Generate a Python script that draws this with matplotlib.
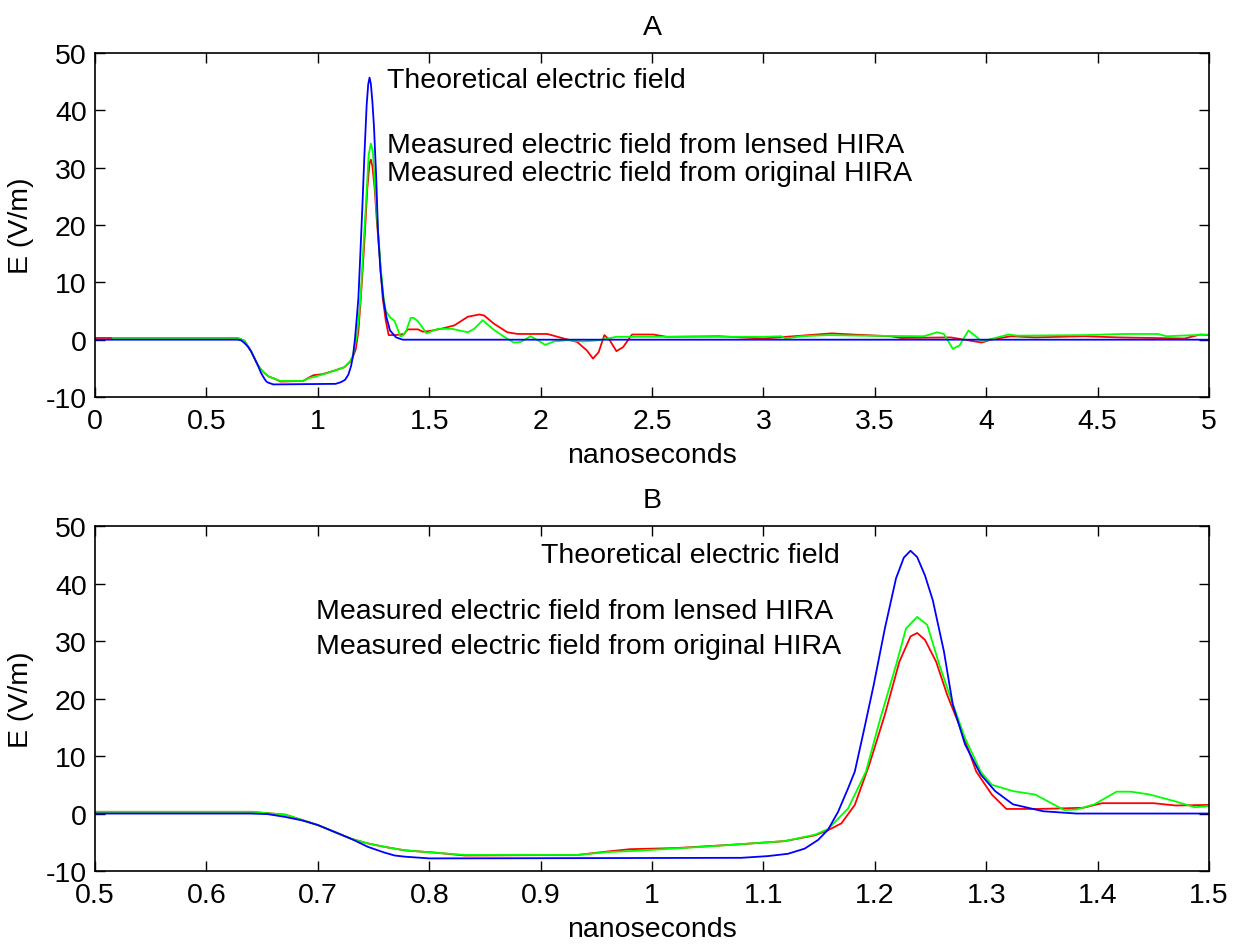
import matplotlib
matplotlib.use("Agg")
import matplotlib.pyplot as plt
from matplotlib.ticker import FuncFormatter

plt.rcParams['font.family'] = ['Liberation Sans', 'DejaVu Sans']
plt.rcParams['axes.unicode_minus'] = False

# theoretical field (blue)
t_theory = [0.0, 0.64, 0.655, 0.671, 0.686, 0.70, 0.715, 0.73, 0.745, 0.76,
            0.769, 0.778, 0.80, 1.08, 1.104, 1.122, 1.137, 1.149, 1.158, 1.167,
            1.176, 1.182, 1.190, 1.199, 1.209, 1.219, 1.226, 1.232, 1.238, 1.245,
            1.252, 1.262, 1.270, 1.281, 1.295, 1.308, 1.324, 1.351, 1.381, 5.0]
e_theory = [0, 0, -0.1, -0.6, -1.2, -2.0, -3.2, -4.4, -5.8, -6.8,
            -7.3, -7.5, -7.8, -7.7, -7.4, -7.0, -6.1, -4.6, -2.8, 0.3,
            4.4, 7.3, 14.3, 22.4, 32.2, 40.9, 44.5, 45.7, 44.6, 41.4,
            37.1, 28.2, 18.9, 12.0, 6.8, 3.9, 1.6, 0.4, 0, 0]

# measured, lensed HIRA (green)
t_lensed = [0.08, 0.64, 0.671, 0.70, 0.73, 0.745, 0.76, 0.778, 0.805, 0.832,
            0.933, 0.96, 0.984, 1.044, 1.119, 1.146, 1.158, 1.176, 1.192, 1.205,
            1.219, 1.228, 1.238, 1.247, 1.258, 1.268, 1.281, 1.295, 1.305, 1.324,
            1.344, 1.37, 1.381, 1.397, 1.417, 1.43, 1.447, 1.47, 1.487, 1.54,
            1.6, 1.673, 1.702, 1.74, 1.784, 1.836, 1.88, 1.91, 1.955, 2.0,
            2.02, 2.06, 2.12, 2.19, 2.26, 2.34, 2.5, 3.0, 3.08, 3.10,
            3.17, 3.29, 3.44, 3.72, 3.78, 3.81, 3.85, 3.88, 3.92, 3.94,
            3.98, 4.02, 4.10, 4.14, 4.44, 4.62, 4.77, 4.81, 5.0]
e_lensed = [0.3, 0.3, -0.2, -2.0, -4.4, -5.2, -5.8, -6.4, -6.8, -7.2,
            -7.2, -6.7, -6.5, -5.8, -4.8, -3.7, -2.7, 0.9, 7.3, 16.6,
            25.8, 32.2, 34.2, 32.8, 25.8, 20.1, 13.1, 7.3, 5.0, 3.9,
            3.3, 0.6, 0.7, 1.6, 3.8, 3.8, 3.3, 2.1, 1.1, 1.9,
            1.9, 1.3, 1.9, 3.4, 1.9, 0.5, -0.5, -0.4, 0.6, -0.4,
            -0.9, -0.3, -0.1, -0.3, -0.1, 0.5, 0.5, 0.5, 0.6, 0.2,
            0.6, 0.8, 0.7, 0.6, 1.3, 1.0, -1.6, -1.0, 1.6, 1.0,
            -0.3, 0.1, 0.9, 0.7, 0.8, 1.0, 1.0, 0.6, 0.9]

# measured, original HIRA (red)
t_orig = [0.0, 0.64, 0.671, 0.70, 0.73, 0.745, 0.76, 0.778, 0.805, 0.832,
          0.933, 0.96, 0.98, 1.022, 1.074, 1.119, 1.146, 1.158, 1.17, 1.182,
          1.195, 1.209, 1.222, 1.232, 1.238, 1.245, 1.255, 1.265, 1.278, 1.291,
          1.305, 1.318, 1.348, 1.387, 1.404, 1.45, 1.47, 1.5, 1.554, 1.613,
          1.673, 1.725, 1.747, 1.79, 1.85, 1.896, 2.03, 2.104, 2.164, 2.208,
          2.235, 2.26, 2.286, 2.31, 2.34, 2.37, 2.41, 2.506, 2.565, 2.8,
          3.0, 3.306, 3.4, 3.57, 3.62, 3.84, 3.98, 4.02, 4.11, 4.22,
          4.44, 4.59, 4.89, 4.96, 5.0]
e_orig = [0.3, 0.3, -0.2, -2.0, -4.4, -5.2, -5.8, -6.4, -6.8, -7.3,
          -7.2, -6.6, -6.2, -6.0, -5.4, -4.8, -3.8, -2.9, -1.7, 1.5,
          8.5, 17.2, 26.4, 30.8, 31.4, 30.2, 26.4, 20.6, 14.3, 7.3,
          3.3, 0.8, 0.8, 1.0, 1.8, 1.8, 1.4, 1.5, 1.9, 2.5,
          4.0, 4.4, 4.2, 2.8, 1.3, 1.0, 1.0, 0.2, -0.4, -1.9,
          -3.3, -2.2, 0.8, -0.1, -2.0, -1.3, 0.9, 0.9, 0.5, 0.6,
          0.2, 1.1, 0.9, 0.6, 0.3, 0.4, -0.5, 0.0, 0.6, 0.4,
          0.6, 0.4, 0.2, 0.9, 0.8]

labels = ["Theoretical electric field",
          "Measured electric field from lensed HIRA",
          "Measured electric field from original HIRA"]

fs = 20.5
fig = plt.figure(figsize=(12.36, 9.45), dpi=100)
ax_a = fig.add_axes([0.0769, 0.5788, 0.9013, 0.3641])
ax_b = fig.add_axes([0.0769, 0.0772, 0.9013, 0.3651])

fmt = FuncFormatter(lambda v, p: f"{v:g}")

for ax in (ax_a, ax_b):
    ax.plot(t_orig, e_orig, color=(1, 0, 0), lw=1.3)
    ax.plot(t_lensed, e_lensed, color=(0, 1, 0), lw=1.3)
    ax.plot(t_theory, e_theory, color=(0, 0, 1), lw=1.3)
    ax.set_ylim(-10, 50)
    ax.set_yticks(range(-10, 51, 10))
    ax.tick_params(direction='in', top=True, right=True, length=7,
                   width=1, labelsize=fs)
    ax.tick_params(axis='x', pad=8)
    ax.tick_params(axis='y', pad=6)
    ax.xaxis.set_major_formatter(fmt)
    for s in ax.spines.values():
        s.set_linewidth(1.2)
    ax.set_xlabel("nanoseconds", fontsize=fs, labelpad=6)
    ax.set_ylabel("E (V/m)", fontsize=fs, labelpad=8)

ax_a.set_xlim(0, 5)
ax_a.set_xticks([i * 0.5 for i in range(11)])
ax_a.set_title("A", fontsize=fs, pad=14)
ax_a.text(1.31, 45.2, labels[0], fontsize=fs, va='center', ha='left')
ax_a.text(1.31, 33.9, labels[1], fontsize=fs, va='center', ha='left')
ax_a.text(1.31, 29.0, labels[2], fontsize=fs, va='center', ha='left')

ax_b.set_xlim(0.5, 1.5)
ax_b.set_xticks([0.5 + i * 0.1 for i in range(11)])
ax_b.set_title("B", fontsize=fs, pad=14)
ax_b.text(0.9, 45.0, labels[0], fontsize=fs, va='center', ha='left')
ax_b.text(0.698, 35.3, labels[1], fontsize=fs, va='center', ha='left')
ax_b.text(0.698, 29.2, labels[2], fontsize=fs, va='center', ha='left')

fig.savefig("out.png", dpi=100)
